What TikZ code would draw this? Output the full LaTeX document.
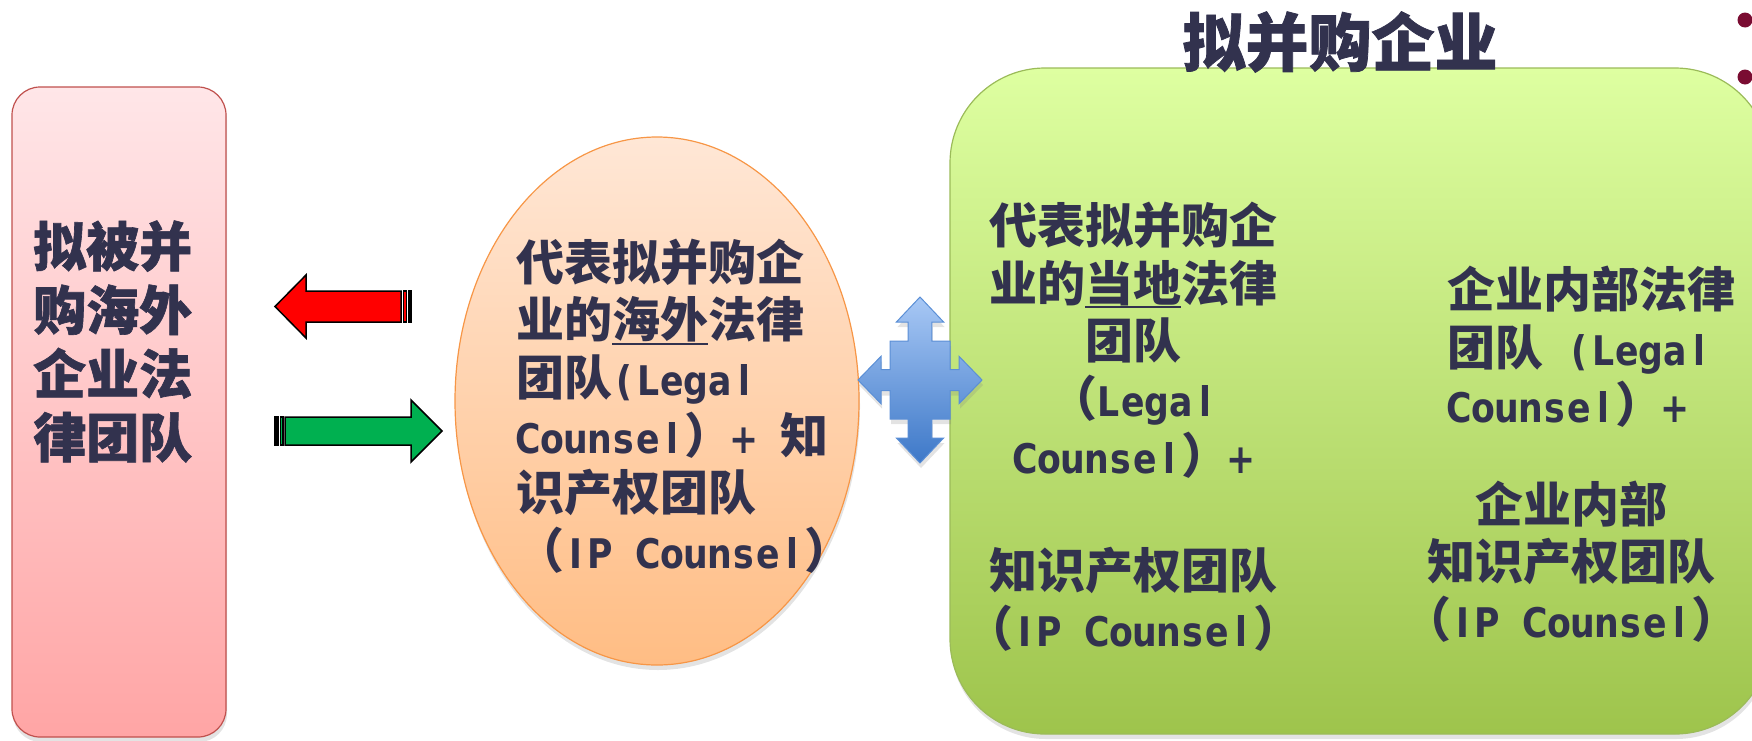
\documentclass[tikz,border=0pt]{standalone}
\usepackage{fontspec}
\setmainfont{Noto Sans CJK SC}
\newfontfamily\latn[Scale=0.85,FakeStretch=0.85]{DejaVu Sans}
\newfontfamily\heavy[FakeBold=1.2]{Noto Sans CJK SC}
\usetikzlibrary{shapes.geometric,shadows,positioning}
\definecolor{ink}{RGB}{50,50,78}
\definecolor{pinktop}{HTML}{FFE6E8}
\definecolor{pinkbot}{HTML}{FFA5A5}
\definecolor{pinkline}{HTML}{C0504D}
\definecolor{peachtop}{HTML}{FFE7D6}
\definecolor{peachbot}{HTML}{FFBD84}
\definecolor{peachline}{HTML}{F79646}
\definecolor{limetop}{HTML}{DEFFA1}
\definecolor{limebot}{HTML}{9EC44C}
\definecolor{limeline}{HTML}{9BBB59}
\definecolor{skytop}{HTML}{A8C8F5}
\definecolor{skybot}{HTML}{3D78C8}
\definecolor{skyline}{HTML}{5B8FD6}
\definecolor{arrowred}{HTML}{FF0000}
\definecolor{arrowgreen}{HTML}{00B050}
\definecolor{dotred}{HTML}{7A0C32}
% half-width latin cells
\ExplSyntaxOn
\NewDocumentCommand{\lat}{m}{ {\latn\bfseries \str_map_inline:nn {#1} { \makebox[24pt]{##1} } } }
\ExplSyntaxOff
\newcommand{\cell}{\hspace*{24pt}}
\newcommand{\ulword}[1]{\setbox0\hbox{#1}\rlap{\rule[-7pt]{\wd0}{1.8pt}}\box0}

\begin{document}
\begin{tikzpicture}[x=1pt,y=-1pt,
    txt/.style={text=ink,inner sep=0pt,font=\fontsize{48}{57.6}\selectfont\bfseries},
    soft/.style={drop shadow={opacity=0.22,shadow xshift=1pt,shadow yshift=-5pt}},
    blockarrow/.style={draw=black,line width=1.5pt,line join=miter}]
  \useasboundingbox (0,0) rectangle (1752,740);
  \clip (0,0) rectangle (1752,740);

  % target team on the left
  \node[soft,rectangle,rounded corners=28pt,draw=pinkline,line width=1.2pt,
    top color=pinktop,bottom color=pinkbot,
    minimum width=214pt,minimum height=650pt] (target) at (119,412) {};
  \node[txt,align=left,font=\fontsize{53}{63.7}\selectfont\heavy\bfseries]
    (targetlabel) at (33,341.5) [anchor=west] {拟被并\\购海外\\企业法\\律团队};

  % the two block arrows
  \draw[blockarrow,fill=arrowred] (275,306.5) -- (306,275) -- (306,291) -- (401,291)
    -- (401,322) -- (306,322) -- (306,338) -- cycle;
  \draw[blockarrow,fill=arrowred] (403.5,291) rectangle (406.5,322);
  \draw[blockarrow,fill=black] (408.5,291) rectangle (411.5,322);
  \draw[blockarrow,fill=arrowgreen] (442,431) -- (411,400) -- (411,417) -- (285,417)
    -- (285,445) -- (411,445) -- (411,462) -- cycle;
  \draw[blockarrow,fill=arrowgreen] (280.5,417) rectangle (283,445);
  \draw[blockarrow,fill=black] (274.5,417) rectangle (278.5,445);

  % overseas counsel
  \node[soft,ellipse,draw=peachline,line width=1.2pt,top color=peachtop,bottom color=peachbot,
    minimum width=404pt,minimum height=528pt] (overseas) at (657,401) {};
  \node[txt,align=left,anchor=west] (overseaslabel) at (516,406)
    {代表拟并购企\\业的\ulword{海外}法律\\团队\lat{(Legal}\\\lat{Counsel}）\lat{+}\cell 知\\识产权团队\\（\lat{IP Counsel}）};

  % acquiring company
  \node[soft,rectangle,rounded corners=95pt,draw=limeline,line width=1.2pt,
    top color=limetop,bottom color=limebot,
    minimum width=820pt,minimum height=666pt] (acquirer) at (1360,401) {};
  \node[txt,font=\fontsize{63}{70}\selectfont\heavy\bfseries] (acquirertitle) at (1340,42) {拟并购企业};
  \fill[dotred] (1745,20) circle (7.5);
  \fill[dotred] (1745,77) circle (7.5);

  \node[txt,align=center] (localtop) at (1133,340.5)
    {代表拟并购企\\业的\ulword{当地}法律\\团队\\（\lat{Legal}\\\lat{Counsel}）\lat{+}};
  \node[txt,align=center] (localbot) at (1133,599.5) {知识产权团队\\（\lat{IP Counsel}）};
  \node[txt,align=left,anchor=west] (inhousetop) at (1447,347)
    {企业内部法律\\团队\cell\lat{(Legal}\\\lat{Counsel}）\lat{+}};
  \node[txt,align=center] (inhousebot) at (1571,561.5) {企业内部\\知识产权团队\\（\lat{IP Counsel}）};

  % four-way arrow between them
  \begin{scope}[shift={(920,380)}]
    \draw[soft,draw=skyline,line width=1pt,top color=skytop,bottom color=skybot]
      (0,-83) -- (23.6,-58) -- (11.8,-58) -- (11.8,-39) -- (30,-39) -- (30,-10.5)
      -- (39,-10.5) -- (39,-23.7) -- (62,0) -- (39,23.7) -- (39,10.5) -- (30,10.5)
      -- (30,39) -- (11.8,39) -- (11.8,58) -- (23.6,58) -- (0,83) -- (-23.6,58)
      -- (-11.8,58) -- (-11.8,39) -- (-30,39) -- (-30,10.5) -- (-39,10.5) -- (-39,23.7)
      -- (-62,0) -- (-39,-23.7) -- (-39,-10.5) -- (-30,-10.5) -- (-30,-39) -- (-11.8,-39)
      -- (-11.8,-58) -- (-23.6,-58) -- cycle;
  \end{scope}
\end{tikzpicture}
\end{document}
